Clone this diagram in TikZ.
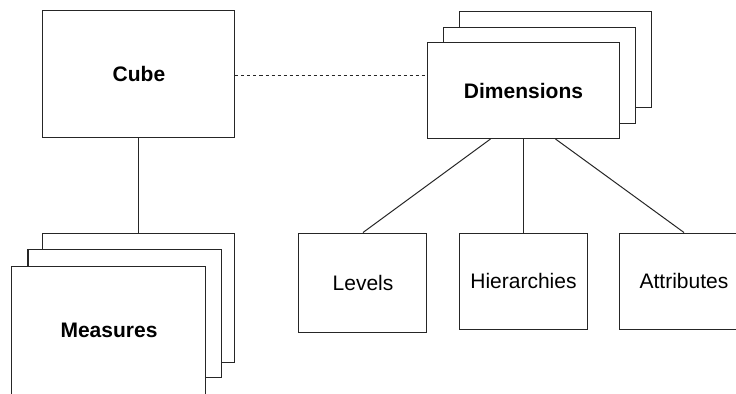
\documentclass[tikz,border=0pt]{standalone}
\usepackage{fontspec}
\setmainfont{Liberation Sans}
\begin{document}
\begin{tikzpicture}[x=0.5pt, y=-0.5pt, line width=0.5pt,
		box/.style={draw=black!85, fill=white, inner sep=0pt, font=\fontsize{10.5pt}{12pt}\selectfont},
		bigbox/.style={box, minimum width=96pt, minimum height=48pt, font=\fontsize{10.5pt}{12pt}\selectfont\bfseries},
		leafbox/.style={box, minimum width=64pt, minimum height=48pt}]
		\useasboundingbox (0, 0) rectangle (736, 393);
		\clip (0, 0) rectangle (736, 393);

		\node[bigbox, minimum height=63.5pt] (cube) at (139, 73.5) {Cube};

		\node[bigbox] (dimb) at (556, 59) {};
		\node[bigbox] (dimm) at (540, 75) {};
		\node[bigbox] (dimf) at (523.5, 90.5) {Dimensions};

		\node[bigbox, minimum height=64.5pt] (meab) at (139, 297.5) {};
		\node[bigbox, minimum width=97pt, minimum height=64pt] (meam) at (125, 313) {};
		\node[bigbox, minimum width=97pt, minimum height=64.5pt] (meaf) at (109, 330.5) {Measures};

		\node[leafbox, minimum height=49.5pt] (lev) at (363, 282.5) {Levels};
		\node[leafbox] (hier) at (523.5, 281) {Hierarchies};
		\node[leafbox] (attr) at (684, 281) {Attributes};

		\draw[black!85] (cube.south) -- (meab.north);
		\draw[black!85, dash pattern=on 1.5pt off 1.5pt] (cube.east) ++ (0, 1.5) -- (dimf.west |- 0, 75);
		\draw[black!85] ([xshift=-16.5pt]dimf.south) -- (lev.north);
		\draw[black!85] (dimf.south) -- (hier.north);
		\draw[black!85] ([xshift=16pt]dimf.south) -- (attr.north);
	\end{tikzpicture}
\end{document}
